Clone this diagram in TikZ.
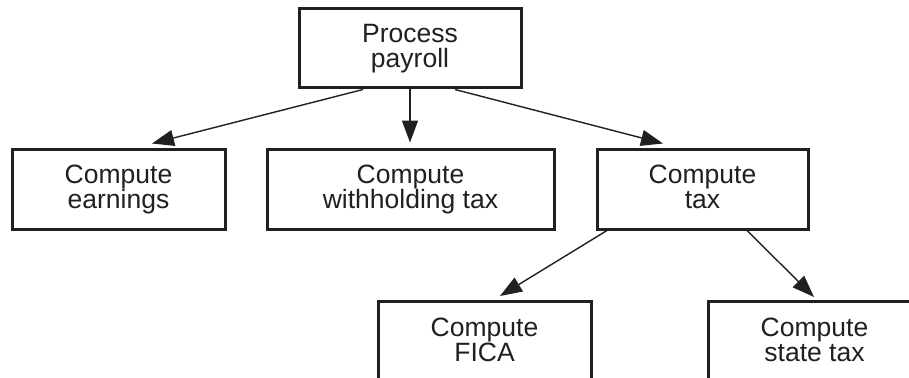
\documentclass[tikz,border=0pt]{standalone}
\usepackage{fontspec}
\setmainfont{Liberation Sans}
\usetikzlibrary{arrows.meta}
\definecolor{ink}{HTML}{231F20}
\tikzset{
  box/.style={draw=ink, line width=3pt, rectangle, inner sep=0pt,
    align=center, text=ink, font=\fontsize{26.5}{25}\selectfont,
    execute at end node={\vphantom{g}}},
  arr/.style={draw=ink, line width=1.4pt,
    -{Triangle[length=22pt,width=16pt]}}
}
\begin{document}
\begin{tikzpicture}[x=1pt, y=-1pt]
  \useasboundingbox (0,0) rectangle (909,377);
  \clip (0,0) rectangle (909,377);
  \fill[white] (0,0) rectangle (909,377);

  % top of the hierarchy
  \node[box, minimum width=222pt, minimum height=79pt] (pp) at (410,48.5) {Process\\payroll};

  % second level
  \node[box, minimum width=213pt, minimum height=80pt] (earn) at (118.5,189) {Compute\\earnings};
  \node[box, minimum width=287pt, minimum height=80pt] (with) at (410.5,189) {Compute\\withholding tax};
  \node[box, minimum width=211pt, minimum height=80pt] (tax)  at (702.5,189) {Compute\\tax};

  % third level, running past the lower edge
  \node[box, minimum width=213pt, minimum height=81pt, anchor=north] (fica)  at (484.5,300) {Compute\\FICA};
  \node[box, minimum width=213pt, minimum height=81pt, anchor=north] (state) at (814.5,300) {Compute\\state tax};

  % connectors
  \draw[arr] ([xshift=-47pt]pp.south) -- ([xshift=33.5pt,yshift=4pt]earn.north);
  \draw[arr] (pp.south) -- ([yshift=5pt]pp.south |- with.north);
  \draw[arr] ([xshift=45pt]pp.south) -- ([xshift=-39.5pt,yshift=4pt]tax.north);
  \draw[arr] ([xshift=-95.5pt]tax.south) -- ([xshift=15.5pt,yshift=4pt]fica.north);
  \draw[arr] ([xshift=44.5pt]tax.south) -- ([xshift=-0.5pt,yshift=3pt]state.north);
\end{tikzpicture}
\end{document}
